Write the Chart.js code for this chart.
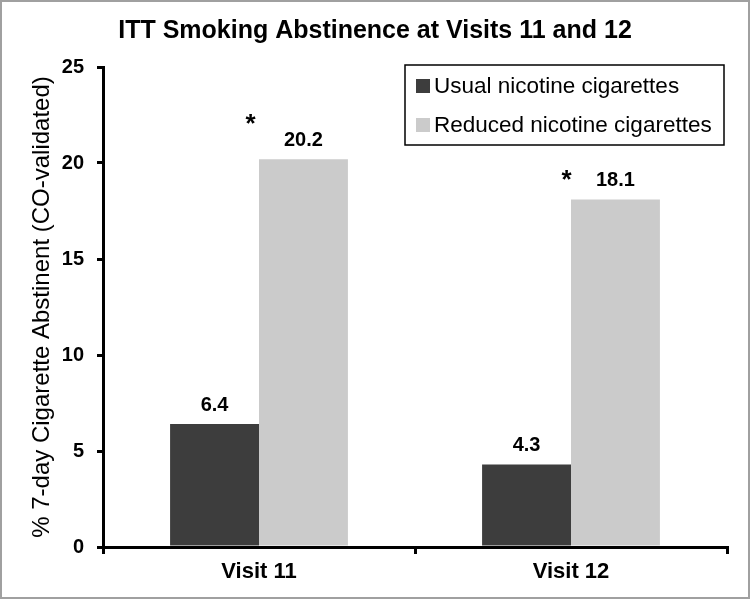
<!DOCTYPE html>
<html>
<head>
<meta charset="utf-8">
<script src="https://cdn.jsdelivr.net/npm/chart.js@4/dist/chart.umd.min.js"></script>
<style>
  html, body { margin: 0; padding: 0; background: #fff; }
  #wrap { width: 750px; height: 600px; position: relative; }
</style>
</head>
<body>
<div id="wrap"><canvas id="abstChart" width="750" height="600"></canvas></div>
<script>
// chart data
const visits = ['Visit 11', 'Visit 12'];
const usualValues = [6.4, 4.3];
const reducedValues = [20.2, 18.1];
const sigMarks = ['*', '*'];
const yTicks = [0, 5, 10, 15, 20, 25];

const seriesNames = ['Usual nicotine cigarettes', 'Reduced nicotine cigarettes'];
const seriesColors = ['#3d3d3d', '#cbcbcb'];

const FONT = '"Liberation Sans", Arial, sans-serif';

// bar value labels + significance stars
const valueLabels = {
    id: 'valueLabels',
    afterDatasetsDraw(chart) {
        const ctx = chart.ctx;
        ctx.save();
        ctx.fillStyle = '#000';
        ctx.textAlign = 'center';
        ctx.textBaseline = 'alphabetic';
        ctx.font = 'bold 20px ' + FONT;
        chart.data.datasets.forEach((ds, di) => {
            const meta = chart.getDatasetMeta(di);
            meta.data.forEach((bar, i) => {
                ctx.fillText(ds.data[i].toFixed(1), bar.x, bar.y - 13);
            });
        });
        // stars sit next to the reduced-nicotine label
        const starOffsets = [[-53, -40], [-49, -25]];
        const reducedMeta = chart.getDatasetMeta(1);
        ctx.font = 'bold 26px ' + FONT;
        ctx.textBaseline = 'middle';
        sigMarks.forEach((m, i) => {
            const bar = reducedMeta.data[i];
            ctx.fillText(m, bar.x + starOffsets[i][0], bar.y + starOffsets[i][1] + 6);
        });
        ctx.restore();
    }
};

// boxed legend inside the plot, plus the outer frame
const boxLegend = {
    id: 'boxLegend',
    afterDraw(chart) {
        const ctx = chart.ctx;
        const right = chart.chartArea.right - 3;
        const left = right - 319;
        const top = 65;
        ctx.save();
        ctx.strokeStyle = '#000';
        ctx.lineWidth = 1.5;
        ctx.strokeRect(left, top, right - left, 80);
        ctx.font = '22.5px ' + FONT;
        ctx.textAlign = 'left';
        ctx.textBaseline = 'middle';
        chart.data.datasets.forEach((ds, i) => {
            const cy = top + 21 + i * 39;
            ctx.fillStyle = ds.backgroundColor;
            ctx.fillRect(left + 11, cy - 7, 14, 14);
            ctx.fillStyle = '#000';
            ctx.fillText(ds.label, left + 29, cy + 1);
        });
        ctx.strokeStyle = '#a0a0a0';
        ctx.lineWidth = 2;
        ctx.strokeRect(1, 1, 748, 597);
        ctx.restore();
    }
};

function createAbstinenceChart() {
    const ctx = document.getElementById('abstChart');
    if (!ctx) return;

    new Chart(ctx, {
        type: 'bar',
        data: {
            labels: visits,
            datasets: [{
                label: seriesNames[0],
                data: usualValues,
                backgroundColor: seriesColors[0],
                borderWidth: 0
            }, {
                label: seriesNames[1],
                data: reducedValues,
                backgroundColor: seriesColors[1],
                borderWidth: 0
            }]
        },
        options: {
            responsive: false,
            animation: false,
            categoryPercentage: 0.57,
            barPercentage: 1.0,
            layout: { padding: 0 },
            plugins: {
                legend: { display: false },
                tooltip: { enabled: false },
                title: {
                    display: true,
                    text: 'ITT Smoking Abstinence at Visits 11 and 12',
                    color: '#000',
                    font: { family: FONT, size: 25, weight: 'bold' },
                    padding: { top: 16, bottom: 21 }
                }
            },
            scales: {
                x: {
                    afterFit(scale) { scale.height = 53; },
                    grid: {
                        offset: true,
                        drawOnChartArea: false,
                        drawTicks: true,
                        tickLength: 7,
                        lineWidth: 3,
                        color: '#000'
                    },
                    border: { display: true, color: '#000', width: 3 },
                    ticks: {
                        color: '#000',
                        font: { family: FONT, size: 22, weight: 'bold' },
                        padding: 5
                    }
                },
                y: {
                    min: 0,
                    max: 25,
                    afterFit(scale) { scale.width = 103; },
                    afterBuildTicks(scale) {
                        scale.ticks = yTicks.map(v => ({ value: v }));
                    },
                    grid: {
                        drawOnChartArea: false,
                        drawTicks: true,
                        tickLength: 6,
                        lineWidth: 3,
                        color: '#000'
                    },
                    border: { display: true, color: '#000', width: 3 },
                    ticks: {
                        color: '#000',
                        font: { family: FONT, size: 20, weight: 'bold' },
                        padding: 13
                    },
                    title: {
                        display: true,
                        text: '% 7-day Cigarette Abstinent (CO-validated)',
                        color: '#000',
                        font: { family: FONT, size: 24 },
                        padding: { top: 28, bottom: 0 }
                    }
                },
                // empty right-hand strip so the title centres on the full width
                yRight: {
                    position: 'right',
                    display: true,
                    afterFit(scale) { scale.width = 23; },
                    grid: { display: false },
                    border: { display: false },
                    ticks: { display: false }
                }
            }
        },
        plugins: [valueLabels, boxLegend]
    });
}

document.addEventListener('DOMContentLoaded', () => {
    createAbstinenceChart();
});
</script>
</body>
</html>
